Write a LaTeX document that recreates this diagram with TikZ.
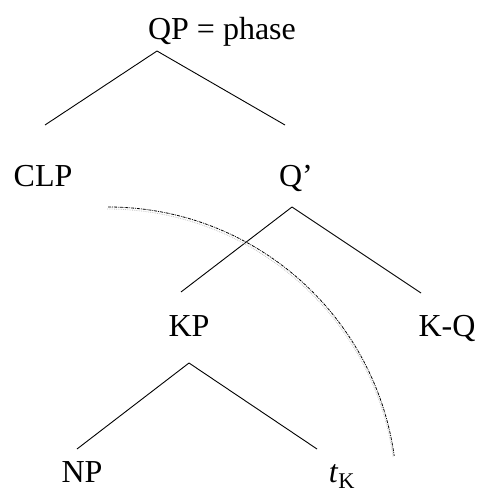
\documentclass[tikz,border=0pt]{standalone}
\usepackage{fontspec}
\setmainfont{Liberation Serif}
\usetikzlibrary{positioning}

\begin{document}
\begin{tikzpicture}[
x = 1pt,
y = -1pt,
cat/.style={
  anchor=base,
  inner sep=0pt,
  font=\fontsize{32}{38}\selectfont
  },
branch/.style={
  line width=0.9pt
  },
phase/.style={
  line width=0.8pt,
  densely dash dot
  },
shade/.style={
  line width=0.8pt,
  gray!45,
  densely dotted
  }
]

\useasboundingbox (0,0) rectangle (476,494);

% labels
\node[cat] (qp) at (222,40) {QP = phase};
\node[cat] (clp) at (43,186) {CLP};
\node[cat] (qbar) at (296,186) {Q'};
\node[cat] (kp) at (189,336) {KP};
\node[cat] (kq) at (447,336) {K-Q};
\node[cat] (np) at (82,482) {NP};
\node[cat] (tk) at (342,482) {\textit{t}\textsubscript{K}};

% branch points
\coordinate (qp-b) at (157,51);
\coordinate (clp-t) at (45,125);
\coordinate (qbar-t) at (285,125);
\coordinate (qbar-b) at (292,207);
\coordinate (kp-t) at (181,292);
\coordinate (kq-t) at (421,293);
\coordinate (kp-b) at (189,363);
\coordinate (np-t) at (77,449);
\coordinate (tk-t) at (317,449);

\foreach \a/\b in {qp-b/clp-t,qp-b/qbar-t,qbar-b/kp-t,qbar-b/kq-t,kp-b/np-t,kp-b/tk-t}
  \draw[branch] (\a) -- (\b);

% phase boundary
\coordinate (arc-s) at (108,207);
\draw[shade] ([shift={(-1,2)}]arc-s) arc[start angle=-90,end angle=-8,radius=289];
\draw[phase] (arc-s) arc[start angle=-90,end angle=-8,radius=289];

\end{tikzpicture}
\end{document}
